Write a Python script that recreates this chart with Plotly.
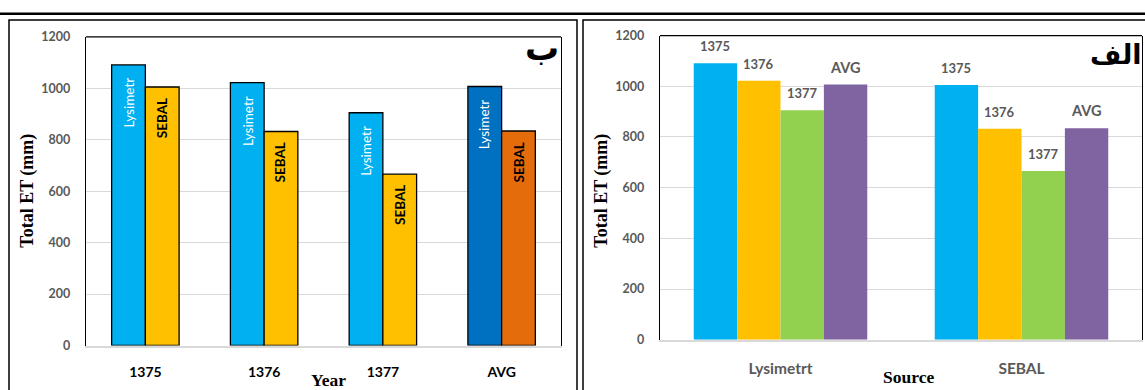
import plotly.graph_objects as go

# ---- data -------------------------------------------------------------
year_labels = ["1375", "1376", "1377", "AVG"]
lysimeter_et = [1091, 1022, 905, 1007]   # last value = average
sebal_et = [1005, 832, 666, 834]         # last value = average

source_labels = ["Lysimetrt", "SEBAL"]
series_names = ["1375", "1376", "1377", "AVG"]
series_colors = ["#00B0F0", "#FFC000", "#92D050", "#8064A2"]

lys_colors = ["#00B0F0", "#00B0F0", "#00B0F0", "#0070C0"]
seb_colors = ["#FFC000", "#FFC000", "#FFC000", "#E46C0A"]

W, H = 1145, 390
TICK_FONT = "Lato"
SERIF = "Liberation Serif"
GRAY = "#595959"


def px_x(p):
    return p / W


def px_y(p):
    return 1 - p / H


fig = go.Figure()

# ---- left panel: Lysimeter vs SEBAL per year ---------------------------
LW = 0.284
fig.add_trace(go.Bar(
    x=year_labels, y=lysimeter_et, width=LW, offset=-LW,
    marker=dict(color=lys_colors, line=dict(color="black", width=1.3)),
    xaxis="x", yaxis="y", showlegend=False, name="Lysimetr"))
fig.add_trace(go.Bar(
    x=year_labels, y=sebal_et, width=LW, offset=0,
    marker=dict(color=seb_colors, line=dict(color="black", width=1.3)),
    xaxis="x", yaxis="y", showlegend=False, name="SEBAL"))

# ---- right panel: each year per source --------------------------------
RW = 0.18
series_values = [[lysimeter_et[i], sebal_et[i]] for i in range(4)]
for i, (name, vals, col) in enumerate(zip(series_names, series_values, series_colors)):
    fig.add_trace(go.Bar(
        x=source_labels, y=vals, width=RW, offset=-2 * RW + i * RW,
        marker=dict(color=col, line=dict(width=0)),
        xaxis="x2", yaxis="y2", showlegend=False, name=name))

annotations = []

# names written inside the left-panel bars
for i, cat in enumerate(year_labels):
    annotations.append(dict(
        x=i - LW / 2, y=lysimeter_et[i], xref="x", yref="y",
        text="Lysimetr", textangle=-90, showarrow=False,
        yanchor="top", xanchor="center", yshift=-11,
        font=dict(family=TICK_FONT, size=13.5, color="white")))
    annotations.append(dict(
        x=i + LW / 2, y=sebal_et[i], xref="x", yref="y",
        text="<b>SEBAL</b>", textangle=-90, showarrow=False,
        yanchor="top", xanchor="center", yshift=-9,
        font=dict(family=TICK_FONT, size=13.5, color="black")))

# year names above the right-panel bars
for i, (name, vals) in enumerate(zip(series_names, series_values)):
    for j, v in enumerate(vals):
        big = name == "AVG"
        annotations.append(dict(
            x=j - 2 * RW + i * RW + RW / 2, y=v, xref="x2", yref="y2",
            text=f"<b>{name}</b>", showarrow=False,
            yanchor="bottom", xanchor="center", yshift=7 if big else 7,
            font=dict(family=TICK_FONT, size=14.5 if big else 13, color=GRAY)))


def paper_text(x, y, text, size, family=SERIF, angle=0):
    return dict(x=px_x(x), y=px_y(y), xref="paper", yref="paper",
                xanchor="center", yanchor="middle",
                text=text, textangle=angle, showarrow=False,
                font=dict(family=family, size=size, color="black"))


# axis titles and panel letters
annotations += [
    paper_text(28, 190, "<b>Total ET (mm)</b>", 18, angle=-90),
    paper_text(602, 190, "<b>Total ET (mm)</b>", 18, angle=-90),
    paper_text(328, 387, "<b>Year</b>", 17.5),
    paper_text(908, 384, "<b>Source</b>", 17.5),
    paper_text(542, 42, "<b>ب</b>", 34, family="DejaVu Sans"),
    paper_text(1116, 48, "<b>الف</b>", 27, family="DejaVu Sans"),
]

shapes = [
    # thick rule across the top
    dict(type="line", xref="paper", yref="paper", x0=0, x1=1,
         y0=px_y(6), y1=px_y(6), line=dict(color="black", width=2.5)),
    # panel frames
    dict(type="rect", xref="paper", yref="paper", x0=px_x(9), x1=px_x(577),
         y0=-0.1, y1=px_y(12.5), line=dict(color="black", width=1.5)),
    dict(type="rect", xref="paper", yref="paper", x0=px_x(583), x1=1.1,
         y0=-0.1, y1=px_y(12.5), line=dict(color="black", width=1.5)),
    # top edge of each plot area
    dict(type="line", xref="x domain", yref="y domain", x0=0, x1=1, y0=1, y1=1,
         line=dict(color="black", width=1.3)),
    dict(type="line", xref="x2 domain", yref="y2 domain", x0=0, x1=1, y0=1, y1=1,
         line=dict(color="black", width=1.3)),
]

yaxis_common = dict(
    range=[0, 1200], dtick=200, tick0=0,
    showgrid=True, gridcolor="#d9d9d9", gridwidth=1,
    zeroline=False, showline=True, linecolor="black", linewidth=1.3,
    mirror=True, ticks="", ticklabelstandoff=12,
    tickfont=dict(family=TICK_FONT, size=12.5, color=GRAY, weight="bold"),
)

fig.update_layout(
    width=W, height=H,
    margin=dict(l=0, r=0, t=0, b=0),
    paper_bgcolor="white", plot_bgcolor="white",
    barmode="overlay",
    xaxis=dict(domain=[px_x(86), px_x(561)], type="category",
               showgrid=False, showline=True, linecolor="#d9d9d9", linewidth=1.5,
               ticks="", ticklabelstandoff=13,
               tickfont=dict(family=TICK_FONT, size=14, color="black", weight="bold")),
    yaxis=dict(domain=[px_y(351), px_y(30)], anchor="x", **yaxis_common),
    xaxis2=dict(domain=[px_x(660), px_x(1142)], type="category", anchor="y2",
                showgrid=False, showline=True, linecolor="#d9d9d9", linewidth=1.5,
                ticks="", ticklabelstandoff=14,
                tickfont=dict(family=TICK_FONT, size=15.5, color=GRAY, weight="bold")),
    yaxis2=dict(domain=[px_y(345), px_y(28.7)], anchor="x2", **yaxis_common),
    annotations=annotations,
    shapes=shapes,
)

fig.write_html("out.html")
